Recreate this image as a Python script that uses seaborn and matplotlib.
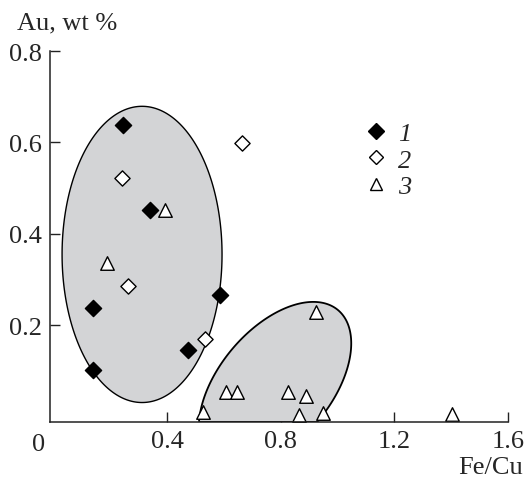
import numpy as np
import pandas as pd
import seaborn as sns
import matplotlib
matplotlib.use("Agg")
import matplotlib.pyplot as plt
from matplotlib.lines import Line2D

# ---- data ----
g1_x = [0.244, 0.340, 0.140, 0.138, 0.475, 0.587]
g1_y = [0.638, 0.452, 0.237, 0.102, 0.146, 0.266]
g2_x = [0.240, 0.665, 0.262, 0.534]
g2_y = [0.523, 0.598, 0.285, 0.169]
g3_x = [0.393, 0.188, 0.526, 0.608, 0.645, 0.824, 0.888, 0.865, 0.950, 0.925, 1.402]
g3_y = [0.452, 0.336, 0.011, 0.054, 0.054, 0.054, 0.045, 0.004, 0.007, 0.230, 0.005]
groups = ["1", "2", "3"]
x_ticks = [0.4, 0.8, 1.2, 1.6]
y_ticks = [0.2, 0.4, 0.6, 0.8]

df = pd.DataFrame({
    "x": g1_x + g2_x + g3_x,
    "y": g1_y + g2_y + g3_y,
    "g": ["1"] * len(g1_x) + ["2"] * len(g2_x) + ["3"] * len(g3_x),
})

sns.set_style("ticks")
plt.rcParams["font.family"] = ["Liberation Serif", "DejaVu Serif"]

FS = 19

fig = plt.figure(figsize=(5.27, 4.85), dpi=100)
ax = fig.add_axes([50 / 527, 1 - 423 / 485, 458 / 527, 371 / 485])

XMIN, XMAX = -0.012, 1.6
YMIN, YMAX = -0.0116, 0.8
ax.set_xlim(XMIN, XMAX)
ax.set_ylim(YMIN, YMAX)

fill_col = "#d3d4d6"

# big ellipse (axis aligned)
t = np.linspace(0, 2 * np.pi, 400)
bx = 0.312 + 0.2815 * np.cos(t)
by = 0.355 + 0.324 * np.sin(t)
ax.fill(bx, by, facecolor=fill_col, edgecolor="black", linewidth=1.0, zorder=1)

# small tilted ellipse (defined in pixel-scaled units, converted to data)
sx = 458 / (XMAX - XMIN)
sy = 371 / (YMAX - YMIN)
a_px, b_px, ang = 98, 56, np.deg2rad(50)
ex = 0.780 + (a_px * np.cos(t) * np.cos(ang) - b_px * np.sin(t) * np.sin(ang)) / sx
ey = 0.069 + (a_px * np.cos(t) * np.sin(ang) + b_px * np.sin(t) * np.cos(ang)) / sy
ey = np.maximum(ey, YMIN)
ax.fill(ex, ey, facecolor=fill_col, edgecolor="black", linewidth=1.3, zorder=1)

styles = {
    "1": dict(marker="D", facecolor="black", s=68),
    "2": dict(marker="D", facecolor="white", s=60),
    "3": dict(marker="^", facecolor="white", s=95),
}
for g in groups:
    sub = df[df["g"] == g]
    st = styles[g]
    sns.scatterplot(data=sub, x="x", y="y", ax=ax, marker=st["marker"], s=st["s"],
                    color=st["facecolor"], edgecolor="black", linewidth=1.0,
                    zorder=3, legend=False)

sns.despine(ax=ax)
for sp in ["left", "bottom"]:
    ax.spines[sp].set_linewidth(1.1)
    ax.spines[sp].set_color("#222222")
    ax.spines[sp].set_zorder(4)

ax.set_xticks(x_ticks)
ax.set_xticklabels(["0.4", "0.8", "1.2", "1.6"])
ax.set_yticks(y_ticks)
ax.set_yticklabels(["0.2", "0.4", "0.6", "0.8"])
ax.tick_params(direction="in", length=7, width=1.0, labelsize=FS, pad=6, color="#222222")
ax.set_xlabel("")
ax.set_ylabel("")

ax.text(-0.024, -0.059, "0", transform=ax.transAxes, ha="center", va="center", fontsize=FS)
ax.text(1.033, -0.121, "Fe/Cu", transform=ax.transAxes, ha="right", va="center", fontsize=FS)
ax.text(-0.072, 1.078, "Au, wt %", transform=ax.transAxes, ha="left", va="center", fontsize=FS)

handles = [
    Line2D([], [], linestyle="", marker="D", markersize=8.5, markerfacecolor="black",
           markeredgecolor="black"),
    Line2D([], [], linestyle="", marker="D", markersize=7, markerfacecolor="white",
           markeredgecolor="black"),
    Line2D([], [], linestyle="", marker="^", markersize=8.5, markerfacecolor="white",
           markeredgecolor="black"),
]
leg = ax.legend(handles, groups, loc="upper left", bbox_to_anchor=(0.683, 0.81),
                frameon=False, borderpad=0, borderaxespad=0,
                handlelength=1.0, handletextpad=0.33, labelspacing=0.12,
                prop={"family": "Liberation Serif", "style": "italic", "size": FS})

fig.savefig("out.png", dpi=100)
